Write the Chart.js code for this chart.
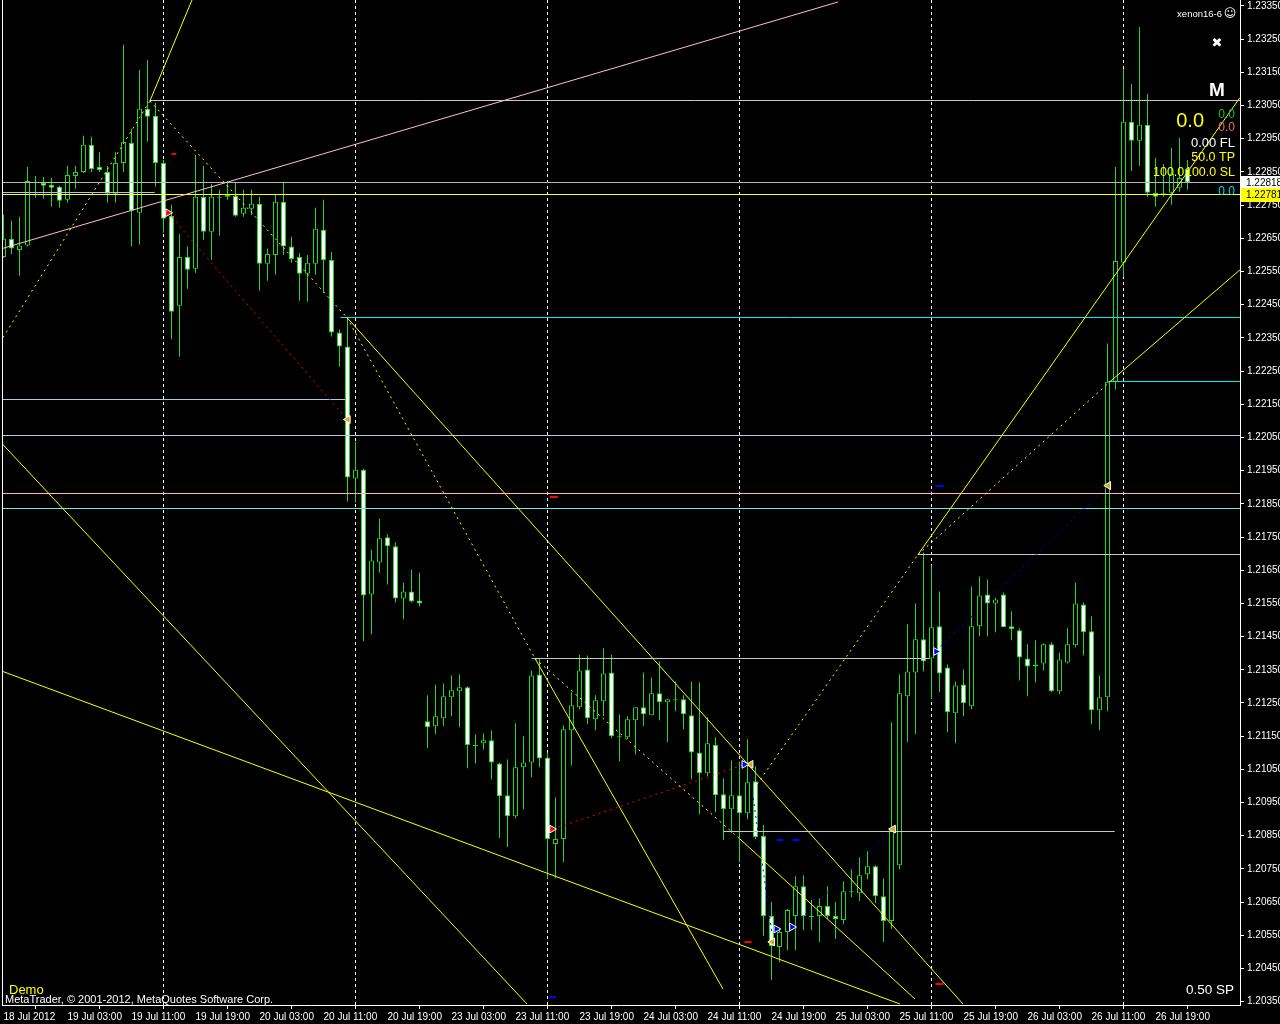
<!DOCTYPE html>
<html><head><meta charset="utf-8">
<script src="https://cdn.jsdelivr.net/npm/chart.js@4.4.1/dist/chart.umd.min.js"></script>
<style>html,body{margin:0;padding:0;background:#000;}canvas{display:block;}</style>
</head><body>
<canvas id="c" width="1280" height="1024"></canvas>
<script>
const opens = [1.22594,1.22649,1.22615,1.22628,1.22817,1.22817,1.22811,1.22805,1.22766,1.22838,
1.22850,1.22932,1.22865,1.22850,1.22784,1.22877,1.22938,1.22727,1.23040,1.23019,
1.22877,1.22718,1.22447,1.22594,1.22558,1.22775,1.22670,1.22772,1.22775,1.22778,
1.22724,1.22739,1.22754,1.22573,1.22600,1.22760,1.22625,1.22594,1.22543,1.22573,
1.22676,1.22585,1.22366,1.22324,1.21926,1.21953,1.21577,1.21673,1.21749,1.21722,
1.21565,1.21586,1.21559,1.21195,1.21180,1.21204,1.21267,1.21285,1.21297,1.21123,
1.21129,1.21138,1.21068,1.20972,1.20909,1.21056,1.21071,1.21336,1.21086,1.20825,
1.20840,1.21168,1.21237,1.21351,1.21201,1.21255,1.21342,1.21150,1.21147,1.21198,
1.21237,1.21213,1.21279,1.21252,1.21261,1.21261,1.21213,1.21101,1.21038,1.21123,
1.20975,1.20930,1.20972,1.20918,1.21014,1.20849,1.20608,1.20515,1.20560,1.20608,
1.20698,1.20608,1.20608,1.20638,1.20608,1.20596,1.20680,1.20677,1.20734,1.20758,
1.20668,1.20593,1.20761,1.21270,1.21342,1.21442,1.21384,1.21481,1.21357,1.21219,
1.21306,1.21240,1.21481,1.21577,1.21550,1.21577,1.21481,1.21469,1.21384,1.21360,
1.21369,1.21427,1.21285,1.21372,1.21424,1.21547,1.21466,1.21228,1.21267,1.22218,
1.22576,1.23001,1.22944,1.22992,1.22787,1.22787,1.22787,1.22802,1.22859];
const highs = [1.22721,1.22703,1.22715,1.22865,1.22838,1.22835,1.22832,1.22808,1.22868,1.22868,
1.22959,1.22956,1.22910,1.22868,1.22910,1.23233,1.22980,1.23157,1.23187,1.23058,
1.22886,1.22751,1.22664,1.22625,1.22901,1.22868,1.22814,1.22796,1.22823,1.22817,
1.22796,1.22796,1.22775,1.22619,1.22781,1.22820,1.22655,1.22606,1.22600,1.22742,
1.22766,1.22609,1.22375,1.22411,1.22038,1.21956,1.21712,1.21806,1.21758,1.21734,
1.21613,1.21652,1.21643,1.21273,1.21306,1.21309,1.21333,1.21336,1.21300,1.21156,
1.21159,1.21168,1.21071,1.21080,1.21189,1.21150,1.21348,1.21384,1.21101,1.20966,
1.21183,1.21282,1.21396,1.21393,1.21273,1.21415,1.21396,1.21216,1.21210,1.21237,
1.21342,1.21327,1.21375,1.21261,1.21315,1.21273,1.21315,1.21312,1.21207,1.21147,
1.21023,1.21077,1.21074,1.21141,1.21059,1.20882,1.20650,1.20569,1.20629,1.20728,
1.20731,1.20656,1.20662,1.20698,1.20650,1.20713,1.20749,1.20785,1.20803,1.20761,
1.20722,1.21192,1.21336,1.21487,1.21550,1.21703,1.21664,1.21586,1.21366,1.21315,
1.21351,1.21601,1.21631,1.21622,1.21568,1.21583,1.21526,1.21475,1.21427,1.21439,
1.21430,1.21433,1.21402,1.21475,1.21613,1.21553,1.21511,1.21333,1.22333,1.22865,
1.23160,1.23115,1.23287,1.23085,1.22892,1.22874,1.22923,1.22953,1.22886];
const lows = [1.22591,1.22603,1.22537,1.22625,1.22772,1.22769,1.22745,1.22742,1.22757,1.22799,
1.22847,1.22850,1.22850,1.22757,1.22757,1.22850,1.22625,1.22631,1.22941,1.22805,
1.22667,1.22345,1.22293,1.22498,1.22546,1.22646,1.22585,1.22658,1.22766,1.22715,
1.22715,1.22721,1.22492,1.22522,1.22540,1.22600,1.22576,1.22462,1.22459,1.22540,
1.22486,1.22354,1.22263,1.21857,1.21854,1.21436,1.21457,1.21643,1.21607,1.21553,
1.21502,1.21553,1.21541,1.21114,1.21156,1.21180,1.21210,1.21177,1.21053,1.21068,
1.21110,1.21020,1.20843,1.20816,1.20903,1.20930,1.21026,1.21056,1.20719,1.20722,
1.20770,1.21062,1.21231,1.21186,1.21168,1.21210,1.21144,1.21074,1.21141,1.21095,
1.21180,1.21213,1.21198,1.21132,1.21225,1.21171,1.21020,1.20915,1.21029,1.20921,
1.20837,1.20858,1.20770,1.20900,1.20840,1.20548,1.20415,1.20469,1.20505,1.20505,
1.20566,1.20566,1.20530,1.20599,1.20539,1.20584,1.20665,1.20653,1.20719,1.20647,
1.20530,1.20569,1.20749,1.21132,1.21156,1.21345,1.21261,1.21282,1.21162,1.21129,
1.21210,1.21231,1.21451,1.21451,1.21463,1.21478,1.21439,1.21318,1.21270,1.21312,
1.21348,1.21282,1.21276,1.21369,1.21418,1.21393,1.21186,1.21168,1.21225,1.22194,
1.22534,1.22853,1.22868,1.22775,1.22745,1.22775,1.22751,1.22790,1.22796];
const closes = [1.22649,1.22619,1.22628,1.22823,1.22820,1.22808,1.22802,1.22763,1.22841,1.22850,
1.22932,1.22859,1.22856,1.22784,1.22877,1.22941,1.22733,1.23040,1.23016,1.22877,
1.22709,1.22429,1.22594,1.22555,1.22775,1.22670,1.22775,1.22775,1.22781,1.22718,
1.22742,1.22754,1.22573,1.22603,1.22760,1.22625,1.22588,1.22543,1.22576,1.22679,
1.22585,1.22366,1.22324,1.21929,1.21953,1.21574,1.21679,1.21746,1.21722,1.21565,
1.21586,1.21556,1.21550,1.21177,1.21210,1.21270,1.21288,1.21297,1.21123,1.21120,
1.21138,1.21071,1.20969,1.20909,1.21056,1.21071,1.21333,1.21083,1.20840,1.20840,
1.21171,1.21243,1.21348,1.21204,1.21258,1.21339,1.21150,1.21147,1.21201,1.21237,
1.21216,1.21279,1.21252,1.21261,1.21258,1.21216,1.21101,1.21038,1.21129,1.20972,
1.20930,1.20972,1.20918,1.21011,1.20846,1.20608,1.20518,1.20560,1.20626,1.20698,
1.20608,1.20605,1.20638,1.20608,1.20599,1.20683,1.20683,1.20731,1.20758,1.20668,
1.20593,1.20870,1.21279,1.21345,1.21442,1.21375,1.21478,1.21339,1.21222,1.21303,
1.21249,1.21481,1.21574,1.21550,1.21562,1.21478,1.21472,1.21387,1.21360,1.21366,
1.21427,1.21285,1.21381,1.21427,1.21550,1.21463,1.21228,1.21267,1.22218,1.22582,
1.23001,1.22944,1.22992,1.22787,1.22775,1.22784,1.22844,1.22832,1.22818];

const xTickIdx = [0,8,16,24,32,40,48,56,64,72,80,88,96,104,112,120,128,136,144];
const xTickLabels = ['18 Jul 2012','19 Jul 03:00','19 Jul 11:00','19 Jul 19:00','20 Jul 03:00','20 Jul 11:00','20 Jul 19:00','23 Jul 03:00','23 Jul 11:00','23 Jul 19:00','24 Jul 03:00','24 Jul 11:00','24 Jul 19:00','25 Jul 03:00','25 Jul 11:00','25 Jul 19:00','26 Jul 03:00','26 Jul 11:00','26 Jul 19:00'];
const yTicks = [1.20350,1.20450,1.20550,1.20650,1.20750,1.20850,1.20950,1.21050,1.21150,1.21250,1.21350,1.21450,1.21550,1.21650,1.21750,1.21850,1.21950,1.22050,1.22150,1.22250,1.22350,1.22450,1.22550,1.22650,1.22750,1.22850,1.22950,1.23050,1.23150,1.23250,1.23350];
const daySeparators = [20,44,68,92,116,140];

const hLevels = [1.23064,1.23064,1.22818,1.22789,1.22781,1.22411,1.22218,1.22164,1.22056,1.21881,1.21836,1.21697,1.21384,1.21384,1.20864,1.20864];
const hStart  = [18.3,18.3,-2,-2,-2,42.1,138.1,-2,-2,-2,-2,114.3,66.4,66.0,90.0,90.0];
const hEnd    = [160,20.2,160,18.9,160,160,160,42.7,160,160,160,160,115.8,91.1,138.9,94.6];

const trendStart = [[-0.06,1.22351],[18.31,1.23064],[18.31,1.23064],[42.94,1.22411],[42.94,1.22411],[66.44,1.21384],[66.44,1.21384],[92.06,1.20840],[94.19,1.21005],[114.31,1.21697],[114.31,1.21697],[138.31,1.22218],[-0.44,1.22038],[-0.44,1.21348],[-0.19,1.22619],[20.56,1.22727],[68.69,1.20870],[93.31,1.21035],[98.56,1.20575],[116.56,1.21408]];
const trendEnd   = [[18.31,1.23064],[23.56,1.23368],[42.94,1.22411],[119.94,1.20343],[66.44,1.21384],[89.94,1.20388],[92.06,1.20840],[113.94,1.20358],[114.31,1.21697],[154.56,1.23074],[138.31,1.22218],[154.56,1.22555],[65.44,1.20343],[112.06,1.20343],[104.31,1.23362],[42.94,1.22104],[92.69,1.21065],[96.06,1.20554],[111.19,1.20870],[138.06,1.21905]];

const buyArrows  = [[92.6,1.21065],[96.6,1.20569],[98.56,1.20575],[116.56,1.21405]];
const sellArrows = [[20.56,1.22727],[68.56,1.20870]];
const closeMarks = [[43.05,1.22104],[93.4,1.21065],[96.1,1.20530],[111.2,1.20870],[138.1,1.21905]];
const redDashes  = [[21.0,21.6,1.22904],[68.3,69.3,1.21872],[116.5,117.5,1.20404],[92.6,93.5,1.20530]];
const blueDashes = [[68.2,69.1,1.20365],[116.5,117.5,1.21905],[96.6,97.5,1.20837],[98.6,99.5,1.20837]];

const bidPrice = 1.22818, askLine = 1.22781;
const Y_MIN = 1.20340, Y_MAX = 1.23368;

const GREEN = '#22d822';
const hColors = ['#c8c8c8','#00ffff','#b8b8b8','#b0c4de','#ffff00','#00e8f0','#00e8f0','#9fd0ea','#b0c8e8','#ffb0c0','#70e4ec','#c8c8c8','#c8c8c8','#00e8f0','#c8c8c8','#00e8f0'];
const trendColors = ['#ffff00','#ffff00','#ffff00','#ffff00','#ffff00','#ffff00','#ffff00','#ffff00','#ffff00','#ffff00','#ffff00','#ffff00','#ffff00','#ffff00','#ffc0cb','#ff0000','#ff0000','#0000ff','#0000ff','#0000ff'];
const trendDotted = [true,false,true,false,true,false,true,false,true,false,true,false,false,false,false,true,true,true,true,true];

const datasets = [];
daySeparators.forEach(s => datasets.push({type:'line', data:[{x:s,y:Y_MIN},{x:s,y:Y_MAX}], borderColor:'#ffffff', borderWidth:1, borderDash:[3,3], pointRadius:0, order:30}));
datasets.push({type:'bar', data: lows.map((l,i)=>({x:i,y:[l,highs[i]]})), backgroundColor:GREEN, borderWidth:0, barThickness:1, grouped:false, inflateAmount:0, order:25});
datasets.push({type:'bar', data: opens.map((o,i)=>({x:i,y:[o,closes[i]]})), backgroundColor: opens.map((o,i)=> closes[i] > o ? '#000000' : '#ffffff'), borderColor:GREEN, borderWidth:1, borderSkipped:false, barThickness:5, grouped:false, inflateAmount:0, minBarLength:1, order:24});
hLevels.forEach((p,k) => datasets.push({type:'line', snapY:true, data:[{x:hStart[k],y:p},{x:hEnd[k],y:p}], borderColor:hColors[k], borderWidth:1, pointRadius:0, order:10}));
trendStart.forEach((s,k) => datasets.push({type:'line', data:[{x:s[0],y:s[1]},{x:trendEnd[k][0],y:trendEnd[k][1]}], borderColor:trendColors[k], borderWidth:1, borderDash: trendDotted[k] ? [2,4] : [], pointRadius:0, order:8}));
redDashes.forEach(d => datasets.push({type:'line', snapY:true, data:[{x:d[0],y:d[2]},{x:d[1],y:d[2]}], borderColor:'#ff0000', borderWidth:2, pointRadius:0, order:6}));
blueDashes.forEach(d => datasets.push({type:'line', snapY:true, data:[{x:d[0],y:d[2]},{x:d[1],y:d[2]}], borderColor:'#0000ff', borderWidth:2, pointRadius:0, order:6}));
datasets.push({type:'line', showLine:false, data: buyArrows.map(a=>({x:a[0],y:a[1]})), pointStyle:'triangle', rotation:90, pointRadius:4.5, pointBackgroundColor:'#0000ff', pointBorderColor:'#ffffff', pointBorderWidth:1, order:2});
datasets.push({type:'line', showLine:false, data: sellArrows.map(a=>({x:a[0],y:a[1]})), pointStyle:'triangle', rotation:90, pointRadius:4.5, pointBackgroundColor:'#ff0000', pointBorderColor:'#ffffff', pointBorderWidth:1, order:2});
datasets.push({type:'line', showLine:false, data: closeMarks.map(a=>({x:a[0],y:a[1]})), pointStyle:'triangle', rotation:-90, pointRadius:4.5, pointBackgroundColor:'#e0a020', pointBorderColor:'#ffffff', pointBorderWidth:1, order:2});

const TICKFONT = {size:10, family:'"Liberation Sans Narrow", "Liberation Sans", Arial, sans-serif'};

// keeps 1px horizontal level lines crisp (snap to pixel centre)
const snap = {
  id:'snap',
  beforeDatasetDraw(chart, args){
    const ds = chart.data.datasets[args.index];
    if (!ds.snapY) return;
    const y = args.meta.data[0].y;
    const w = ds.borderWidth || 1;
    const d = (w % 2 === 1) ? (Math.floor(y) + 0.5 - y) : (Math.round(y) - y);
    chart.ctx.save(); chart.ctx.translate(0, d);
  },
  afterDatasetDraw(chart, args){ if (chart.data.datasets[args.index].snapY) chart.ctx.restore(); }
};

const overlay = {
  id:'overlay',
  beforeDraw(chart){ const c=chart.ctx; c.save(); c.fillStyle='#000'; c.fillRect(0,0,chart.width,chart.height); c.restore(); },
  afterDraw(chart){
    const c = chart.ctx, ys = chart.scales.y;
    c.save();
    c.fillStyle = '#ffffff'; c.fillRect(2,0,1,1005);
    const box = (p, bg) => { const y = Math.round(ys.getPixelForValue(p)); c.fillStyle = bg; c.fillRect(1241, y-7, 39, 14); c.fillStyle='#000'; c.font='10px "Liberation Sans Narrow", "Liberation Sans", Arial'; c.textBaseline='middle'; c.textAlign='left'; c.fillText(p.toFixed(5), 1246, y+0.5); };
    box(bidPrice, '#ffffff');
    box(askLine, '#ffff00');
    const t = (s, x, y, font, color, align) => { c.font = font; c.fillStyle = color; c.textAlign = align || 'left'; c.textBaseline = 'alphabetic'; c.fillText(s, x, y); };
    t('xenon16-6', 1222, 17, '9.5px "Liberation Sans"', '#ffffff', 'right');
    t('\u263A', 1230, 17, '12px "DejaVu Sans"', '#ffffff', 'center');
    t('\u2716', 1217, 47, '13px "DejaVu Sans"', '#ffffff', 'center');
    t('M', 1217, 96, 'bold 19px "Liberation Sans"', '#ffffff', 'center');
    t('0.0', 1204, 127, '20px "Liberation Sans"', '#ffff00', 'right');
    t('0.0', 1235, 118, '12px "Liberation Sans"', '#22c022', 'right');
    t('0.0', 1235, 131, '12px "Liberation Sans"', '#e07868', 'right');
    t('0.00 FL', 1235, 147, '13px "Liberation Sans"', '#ffffff', 'right');
    t('50.0 TP', 1235, 161, '12.5px "Liberation Sans"', '#ffff00', 'right');
    t('100.0', 1153, 176, '12.5px "Liberation Sans"', '#ffff00', 'left');
    t('100.0 SL', 1235, 176, '12.5px "Liberation Sans"', '#ffff00', 'right');
    t('0.0', 1235, 195, '12px "Liberation Sans"', '#00d8e8', 'right');
    t('Demo', 9, 994, '13px "Liberation Sans"', '#ffff00', 'left');
    t('MetaTrader, \u00A9 2001-2012, MetaQuotes Software Corp.', 5, 1003, '11px "Liberation Sans"', '#ffffff', 'left');
    t('0.50 SP', 1234, 994, '13.5px "Liberation Sans"', '#ffffff', 'right');
    c.restore();
  }
};

new Chart(document.getElementById('c'), {
  type:'bar',
  data:{ datasets },
  options:{
    responsive:false, animation:false, devicePixelRatio:1, events:[],
    layout:{ autoPadding:false, padding:{left:2, top:0, right:0, bottom:0} },
    plugins:{ legend:{display:false}, tooltip:{enabled:false} },
    scales:{
      x:{ type:'linear', offset:false, min:-0.1875, max:154.5625, position:'bottom',
          afterBuildTicks: s => { s.ticks = xTickIdx.map(v=>({value:v})); },
          afterFit: s => { s.height = 19; s.paddingLeft = 0; s.paddingRight = 0; s.paddingTop = 0; s.paddingBottom = 0; },
          ticks:{ autoSkip:false, maxRotation:0, minRotation:0, align:'start', padding:2, color:'#ffffff', font:TICKFONT,
                  callback: v => { const k = xTickIdx.indexOf(v); return k >= 0 ? xTickLabels[k] : ''; } },
          grid:{ drawOnChartArea:false, drawTicks:true, tickLength:4, color:'#ffffff' },
          border:{ display:true, color:'#ffffff' } },
      y:{ type:'linear', position:'right', min:Y_MIN, max:Y_MAX,
          afterBuildTicks: s => { s.ticks = yTicks.map(v=>({value:v})); },
          afterFit: s => { s.width = 40; s.paddingTop = 0; s.paddingBottom = 0; s.paddingLeft = 0; s.paddingRight = 0; },
          ticks:{ autoSkip:false, padding:3, color:'#ffffff', font:TICKFONT, callback: v => Number(v).toFixed(5) },
          grid:{ drawOnChartArea:false, drawTicks:true, tickLength:4, color:'#ffffff' },
          border:{ display:true, color:'#ffffff' } }
    }
  },
  plugins:[snap, overlay]
});
</script>
</body></html>
